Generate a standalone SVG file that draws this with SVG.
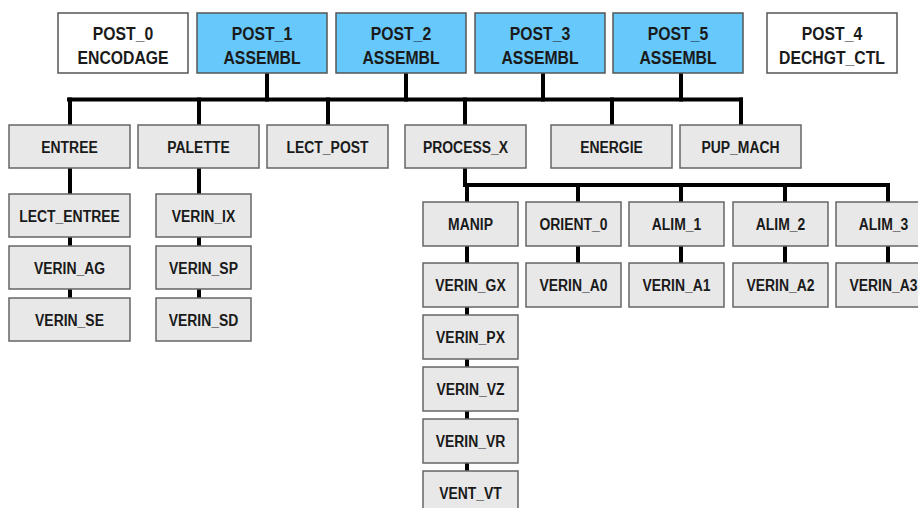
<svg xmlns="http://www.w3.org/2000/svg" width="918" height="508" viewBox="0 0 918 508">
<style>
  .bg{fill:#ffffff}
  .post{fill:#ffffff;stroke:#555555;stroke-width:1.5}
  .asm{fill:#66c8fb;stroke:#555555;stroke-width:1.5}
  .node{fill:#e8e8e8;stroke:#666666;stroke-width:1.5}
  .t1{font-family:"Liberation Sans",Arial,sans-serif;font-weight:bold;font-size:19px;fill:#1a1a1a;text-anchor:middle}
  .t2{font-family:"Liberation Sans",Arial,sans-serif;font-weight:bold;font-size:17px;fill:#1a1a1a;text-anchor:middle}
  .wire{stroke:#000000;stroke-width:4;fill:none;stroke-linecap:square}
</style>
<rect class="bg" x="0" y="0" width="918" height="508"/>

<g id="connectors">
  <path class="wire" d="M267,74 V99.5 M406,74 V99.5 M543,74 V99.5 M681,74 V99.5"/>
  <path class="wire" d="M69,99.5 H741"/>
  <path class="wire" d="M70,99.5 V124 M199,99.5 V124 M328,99.5 V124 M465,99.5 V124 M612,99.5 V124 M741,99.5 V124"/>
  <path class="wire" d="M70,169 V193 M70,238 V245 M70,290 V297"/>
  <path class="wire" d="M199,169 V193 M199,238 V245 M199,290 V297"/>
  <path class="wire" d="M465,169 V185 M465,185 H888"/>
  <path class="wire" d="M467,185 V201 M578,185 V201 M681,185 V201 M785,185 V201 M888,185 V201"/>
  <path class="wire" d="M467,247 V262 M578,247 V262 M681,247 V262 M785,247 V262 M888,247 V262"/>
  <path class="wire" d="M467,308 V314 M467,360 V366 M467,412 V418 M467,464 V470"/>
</g>

<g id="post0"><rect class="post" x="58" y="13" width="130" height="60"/>
  <text class="t1" transform="translate(123,39.5) scale(0.83,1)">POST_0</text>
  <text class="t1" transform="translate(123,63.5) scale(0.83,1)">ENCODAGE</text></g>
<g id="post1"><rect class="asm" x="197" y="13" width="130" height="60"/>
  <text class="t1" transform="translate(262,39.5) scale(0.83,1)">POST_1</text>
  <text class="t1" transform="translate(262,63.5) scale(0.83,1)">ASSEMBL</text></g>
<g id="post2"><rect class="asm" x="336" y="13" width="130" height="60"/>
  <text class="t1" transform="translate(401,39.5) scale(0.83,1)">POST_2</text>
  <text class="t1" transform="translate(401,63.5) scale(0.83,1)">ASSEMBL</text></g>
<g id="post3"><rect class="asm" x="475" y="13" width="130" height="60"/>
  <text class="t1" transform="translate(540,39.5) scale(0.83,1)">POST_3</text>
  <text class="t1" transform="translate(540,63.5) scale(0.83,1)">ASSEMBL</text></g>
<g id="post5"><rect class="asm" x="613" y="13" width="130" height="60"/>
  <text class="t1" transform="translate(678,39.5) scale(0.83,1)">POST_5</text>
  <text class="t1" transform="translate(678,63.5) scale(0.83,1)">ASSEMBL</text></g>
<g id="post4"><rect class="post" x="767" y="13" width="130" height="60"/>
  <text class="t1" transform="translate(832,39.5) scale(0.83,1)">POST_4</text>
  <text class="t1" transform="translate(832,63.5) scale(0.83,1)">DECHGT_CTL</text></g>

<g id="entree"><rect class="node" x="9" y="125" width="121" height="43"/>
  <text class="t2" transform="translate(69.5,152.5) scale(0.82,1)">ENTREE</text></g>
<g id="palette"><rect class="node" x="138" y="125" width="121" height="43"/>
  <text class="t2" transform="translate(198.5,152.5) scale(0.82,1)">PALETTE</text></g>
<g id="lect_post"><rect class="node" x="267" y="125" width="121" height="43"/>
  <text class="t2" transform="translate(327.5,152.5) scale(0.82,1)">LECT_POST</text></g>
<g id="process_x"><rect class="node" x="405" y="125" width="121" height="43"/>
  <text class="t2" transform="translate(465.5,152.5) scale(0.82,1)">PROCESS_X</text></g>
<g id="energie"><rect class="node" x="551" y="125" width="121" height="43"/>
  <text class="t2" transform="translate(611.5,152.5) scale(0.82,1)">ENERGIE</text></g>
<g id="pup_mach"><rect class="node" x="680" y="125" width="121" height="43"/>
  <text class="t2" transform="translate(740.5,152.5) scale(0.82,1)">PUP_MACH</text></g>

<g id="lect_entree"><rect class="node" x="9" y="194" width="121" height="43"/>
  <text class="t2" transform="translate(69.5,221.5) scale(0.82,1)">LECT_ENTREE</text></g>
<g id="verin_ag"><rect class="node" x="9" y="246" width="121" height="43"/>
  <text class="t2" transform="translate(69.5,273.5) scale(0.82,1)">VERIN_AG</text></g>
<g id="verin_se"><rect class="node" x="9" y="298" width="121" height="43"/>
  <text class="t2" transform="translate(69.5,325.5) scale(0.82,1)">VERIN_SE</text></g>

<g id="verin_ix"><rect class="node" x="156" y="194" width="95" height="43"/>
  <text class="t2" transform="translate(203.5,221.5) scale(0.82,1)">VERIN_IX</text></g>
<g id="verin_sp"><rect class="node" x="156" y="246" width="95" height="43"/>
  <text class="t2" transform="translate(203.5,273.5) scale(0.82,1)">VERIN_SP</text></g>
<g id="verin_sd"><rect class="node" x="156" y="298" width="95" height="43"/>
  <text class="t2" transform="translate(203.5,325.5) scale(0.82,1)">VERIN_SD</text></g>

<g id="manip"><rect class="node" x="423" y="202" width="95" height="44"/>
  <text class="t2" transform="translate(470.5,230) scale(0.82,1)">MANIP</text></g>
<g id="orient_0"><rect class="node" x="526" y="202" width="95" height="44"/>
  <text class="t2" transform="translate(573.5,230) scale(0.82,1)">ORIENT_0</text></g>
<g id="alim_1"><rect class="node" x="629" y="202" width="95" height="44"/>
  <text class="t2" transform="translate(676.5,230) scale(0.82,1)">ALIM_1</text></g>
<g id="alim_2"><rect class="node" x="733" y="202" width="95" height="44"/>
  <text class="t2" transform="translate(780.5,230) scale(0.82,1)">ALIM_2</text></g>
<g id="alim_3"><rect class="node" x="836" y="202" width="95" height="44"/>
  <text class="t2" transform="translate(883.5,230) scale(0.82,1)">ALIM_3</text></g>

<g id="verin_gx"><rect class="node" x="423" y="263" width="95" height="44"/>
  <text class="t2" transform="translate(470.5,291) scale(0.82,1)">VERIN_GX</text></g>
<g id="verin_a0"><rect class="node" x="526" y="263" width="95" height="44"/>
  <text class="t2" transform="translate(573.5,291) scale(0.82,1)">VERIN_A0</text></g>
<g id="verin_a1"><rect class="node" x="629" y="263" width="95" height="44"/>
  <text class="t2" transform="translate(676.5,291) scale(0.82,1)">VERIN_A1</text></g>
<g id="verin_a2"><rect class="node" x="733" y="263" width="95" height="44"/>
  <text class="t2" transform="translate(780.5,291) scale(0.82,1)">VERIN_A2</text></g>
<g id="verin_a3"><rect class="node" x="836" y="263" width="95" height="44"/>
  <text class="t2" transform="translate(883.5,291) scale(0.82,1)">VERIN_A3</text></g>

<g id="verin_px"><rect class="node" x="423" y="315" width="95" height="44"/>
  <text class="t2" transform="translate(470.5,343) scale(0.82,1)">VERIN_PX</text></g>
<g id="verin_vz"><rect class="node" x="423" y="367" width="95" height="44"/>
  <text class="t2" transform="translate(470.5,395) scale(0.82,1)">VERIN_VZ</text></g>
<g id="verin_vr"><rect class="node" x="423" y="419" width="95" height="44"/>
  <text class="t2" transform="translate(470.5,447) scale(0.82,1)">VERIN_VR</text></g>
<g id="vent_vt"><rect class="node" x="423" y="471" width="95" height="44"/>
  <text class="t2" transform="translate(470.5,499) scale(0.82,1)">VENT_VT</text></g>
</svg>
